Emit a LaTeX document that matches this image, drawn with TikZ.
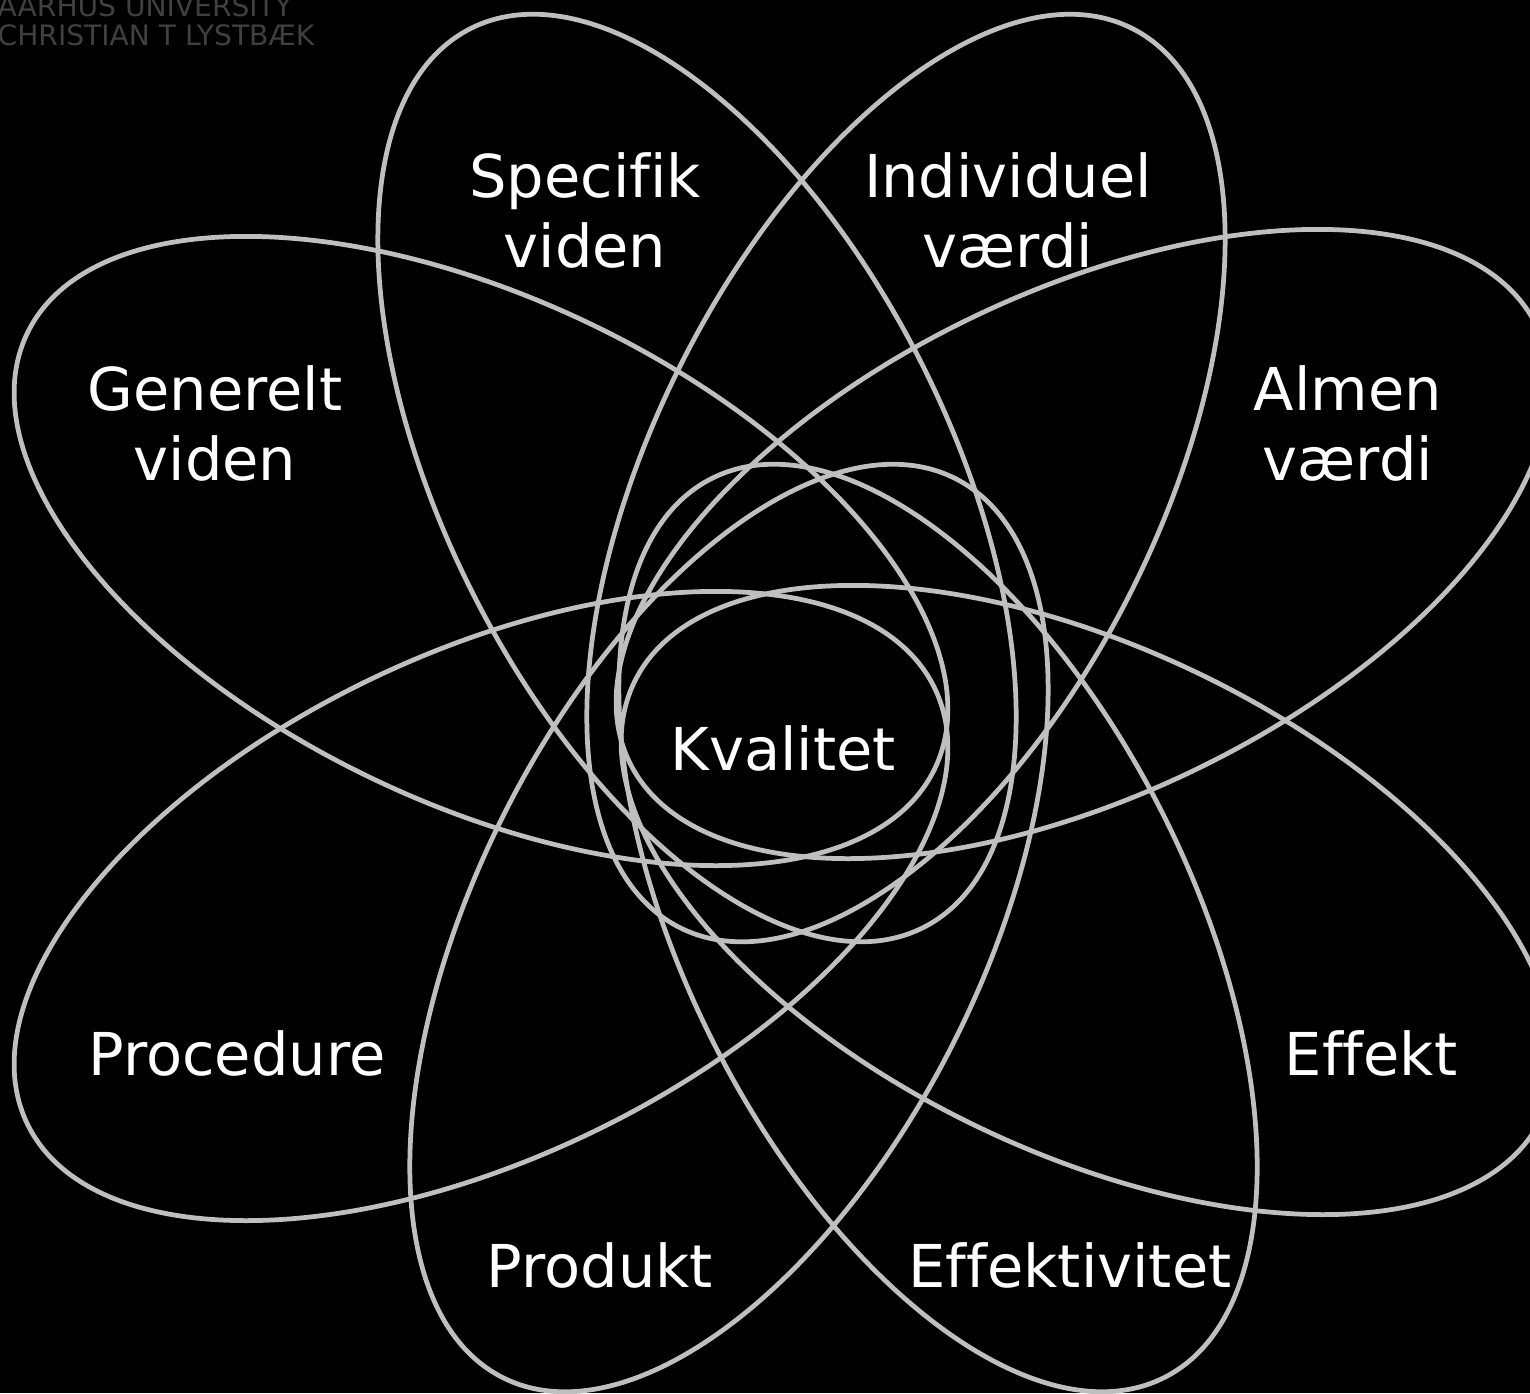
\documentclass[tikz,border=0pt]{standalone}
\usepackage{fontspec}
\setmainfont{DejaVu Sans}[Ligatures=NoCommon]
\usepackage{tikz}

\definecolor{petalgrey}{RGB}{191,191,191}
\definecolor{brandgrey}{RGB}{64,64,64}

\begin{document}
\begin{tikzpicture}[x=0.01cm, y=-0.01cm,
    petal/.style={draw=petalgrey, line width=1.35pt},
    word/.style={text=white, inner sep=0pt, align=center,
      font=\fontsize{16.8}{19.9}\selectfont}]

    % Slide frame, cut at the edges
    \useasboundingbox (0,0) rectangle (1530,1393);
    \fill[black] (0,0) rectangle (1530,1393);
    \clip (0,0) rectangle (1530,1393);

    % Centres of the eight petals
    \coordinate (spec) at (697,478);
    \coordinate (indi) at (906,478);
    \coordinate (prod) at (729,928);
    \coordinate (effv) at (938,928);
    \coordinate (gene) at (481,551);
    \coordinate (proc) at (481,906);
    \coordinate (alme) at (1083,544);
    \coordinate (effe) at (1088,900);

    % Steep petals
    \draw[petal, rotate around={-63.3:(spec)}] (spec) ellipse (5.03cm and 2.52cm);
    \draw[petal, rotate around={63.3:(indi)}] (indi) ellipse (5.03cm and 2.52cm);
    \draw[petal, rotate around={63.3:(prod)}] (prod) ellipse (5.03cm and 2.52cm);
    \draw[petal, rotate around={-63.3:(effv)}] (effv) ellipse (5.03cm and 2.52cm);

    % Flat petals
    \draw[petal, rotate around={-25.6:(gene)}] (gene) ellipse (5.03cm and 2.52cm);
    \draw[petal, rotate around={25.6:(proc)}] (proc) ellipse (5.03cm and 2.52cm);
    \draw[petal, rotate around={25.6:(alme)}] (alme) ellipse (5.03cm and 2.52cm);
    \draw[petal, rotate around={-25.6:(effe)}] (effe) ellipse (5.03cm and 2.52cm);

    % Labels
    \node[word, anchor=north] (tspec) at (585,152) {Specifik\\viden};
    \node[word, anchor=north] (tindi) at (1008,152) {Individuel\\værdi};
    \node[word, anchor=north] (tgene) at (215,365) {Generelt\\viden};
    \node[word, anchor=north] (talme) at (1348,365) {Almen\\værdi};
    \node[word, anchor=base] (tproc) at (237,1075) {Procedure};
    \node[word, anchor=base] (teffe) at (1371,1075) {Effekt};
    \node[word, anchor=base] (tprod) at (600,1287) {Produkt};
    \node[word, anchor=base] (teffv) at (1070,1287) {Effektivitet};
    \node[word, anchor=base] (tkval) at (783,770) {Kvalitet};

    % Corner credit
    \node[anchor=north west, inner sep=0pt, align=left, text=brandgrey,
      font=\fontsize{8}{8.5}\selectfont] (brand) at (-3,-5.5)
      {AARHUS UNIVERSITY\\CHRISTIAN T LYSTBÆK};

\end{tikzpicture}
\end{document}
